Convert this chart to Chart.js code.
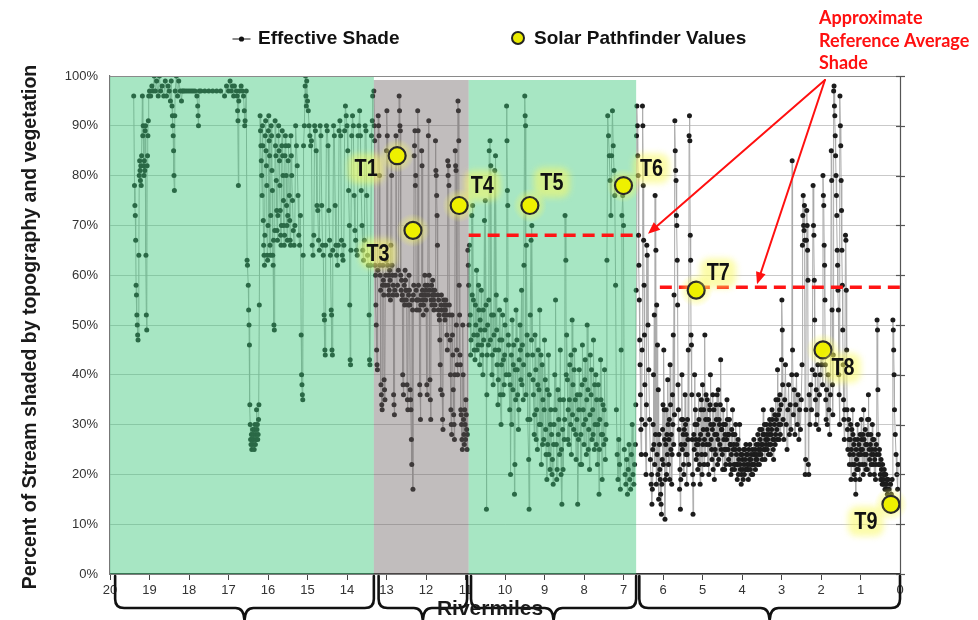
<!DOCTYPE html>
<html><head><meta charset="utf-8">
<script src="https://cdn.jsdelivr.net/npm/chart.js@4.4.1/dist/chart.umd.min.js"></script>
<style>html,body{margin:0;padding:0;background:#fff;}#wrap{width:978px;height:620px;}</style>
</head><body><div id="wrap"><canvas id="c" width="978" height="620"></canvas></div>
<script>
// ---------- DATA ----------
const xTickMiles = [20,19,18,17,16,15,14,13,12,11,10,9,8,7,6,5,4,3,2,1,0];
const yTickValues = [0,10,20,30,40,50,60,70,80,90,100];

// Effective shade, [rivermile, percent], reach 19.4 - 13.35
const reachUpper = [
[19.40,96],[19.38,78],[19.37,74],[19.36,72],[19.35,67],[19.34,58],[19.33,56],[19.32,52],[19.31,50],[19.30,48],[19.29,47],[19.27,64],[19.26,80],[19.25,83],[19.24,81],[19.23,79],[19.22,82],[19.21,78],[19.20,84],[19.18,96],[19.17,88],[19.16,90],[19.15,82],[19.14,80],[19.13,83],[19.12,81],[19.11,89],[19.10,90],[19.09,64],[19.08,52],[19.07,49],[19.06,82],[19.05,84],[19.04,88],[19.03,91],[19.02,96],[19.00,97],[18.97,96],[18.94,98],[18.91,97],[18.88,100],[18.85,97],[18.82,99],[18.78,96],[18.75,100],[18.72,97],[18.68,98],[18.64,96],[18.60,99],[18.57,96],[18.53,98],[18.50,97],[18.47,95],[18.45,99],[18.43,94],[18.42,92],[18.41,90],[18.40,88],[18.39,85],[18.38,80],[18.37,77],[18.36,92],[18.35,97],[18.32,100],[18.29,96],[18.26,99],[18.22,97],[18.19,95],[18.17,97],[18.14,97],[18.10,97],[18.05,97],[18.00,97],
[17.95,97],[17.90,97],[17.85,97],[17.80,96],[17.78,94],[17.77,92],[17.76,90],[17.74,97],[17.70,97],[17.60,97],[17.50,97],[17.40,97],[17.30,97],[17.20,97],[17.10,96],[17.05,98],[17.00,97],[16.96,99],[16.93,97],[16.90,98],[16.87,96],[16.85,98],[16.80,97],[16.78,96],[16.77,93],[16.76,91],[16.75,78],[16.74,95],[16.72,97],[16.68,98],[16.65,97],[16.62,96],[16.60,93],[16.59,90],[16.58,91],[16.55,97],[16.53,63],[16.52,62],[16.50,58],[16.49,53],[16.48,50],[16.47,46],[16.46,34],[16.45,30],[16.44,27],[16.43,26],[16.42,28],[16.41,25],[16.40,27],[16.39,29],[16.38,26],[16.37,28],[16.36,27],[16.35,25],[16.34,29],[16.33,30],[16.32,26],[16.31,28],[16.30,27],[16.29,33],[16.28,29],[16.27,30],[16.26,27],[16.25,28],[16.24,31],[16.23,34],[16.22,54],[16.20,92],[16.19,89],[16.18,86],[16.17,83],[16.16,80],[16.15,76],
[16.14,90],[16.13,86],[16.12,71],[16.11,66],[16.10,64],[16.09,62],[16.08,68],[16.07,88],[16.06,91],[16.05,85],[16.04,82],[16.03,78],[16.02,64],[16.01,63],[16.00,70],[15.99,89],[15.98,92],[15.97,87],[15.96,84],[15.95,66],[15.94,64],[15.93,72],[15.92,90],[15.91,88],[15.90,81],[15.89,77],[15.88,64],[15.87,62],[15.86,67],[15.85,50],[15.84,49],[15.83,69],[15.82,91],[15.81,86],[15.80,84],[15.79,79],[15.78,73],[15.77,69],[15.76,67],[15.75,72],[15.74,88],[15.73,90],[15.72,85],[15.71,83],[15.70,78],[15.69,73],[15.68,68],[15.67,66],[15.66,70],[15.65,86],[15.64,89],[15.63,84],[15.62,80],[15.61,75],[15.60,70],[15.59,66],[15.58,68],[15.57,84],[15.56,88],[15.55,86],[15.54,80],[15.53,74],[15.52,70],[15.51,67],[15.50,72],[15.49,83],[15.48,86],[15.46,76],[15.45,71],[15.44,67],[15.43,66],[15.42,88],[15.41,84],[15.40,80],[15.38,75],[15.36,69],[15.34,66],[15.32,70],[15.30,90],[15.28,86],[15.26,82],[15.24,76],[15.22,68],[15.20,66],[15.18,72],[15.16,48],[15.15,40],[15.14,38],[15.13,36],[15.12,35],[15.11,64],[15.10,86],[15.08,90],[15.06,98],[15.05,100],[15.04,96],[15.03,94],[15.02,99],[15.00,95],
[14.98,93],[14.96,90],[14.94,88],[14.92,86],[14.90,87],[14.88,66],[14.86,64],[14.84,68],[14.82,90],[14.80,89],[14.78,85],[14.76,74],[14.74,73],[14.72,67],[14.70,65],[14.68,90],[14.66,88],[14.64,74],[14.62,66],[14.60,64],[14.58,52],[14.57,51],[14.56,45],[14.55,44],[14.54,66],[14.52,90],[14.50,89],[14.48,86],[14.46,73],[14.44,67],[14.42,64],[14.40,53],[14.39,52],[14.38,45],[14.37,44],[14.36,65],[14.34,90],[14.32,88],[14.30,74],[14.28,66],[14.26,64],[14.24,62],[14.22,66],[14.20,89],[14.18,91],[14.16,88],[14.14,67],[14.12,64],[14.10,63],[14.08,66],[14.06,89],[14.04,94],[14.02,92],[14.00,90],[13.98,85],[13.96,77],[13.94,70],[13.93,54],[13.92,43],[13.91,42],[13.90,65],[13.88,88],[13.86,92],[13.84,90],[13.82,76],[13.80,69],[13.78,67],[13.76,65],[13.74,64],[13.72,88],[13.70,90],[13.68,93],[13.66,88],[13.64,77],[13.62,70],[13.60,65],[13.58,63],[13.56,67],[13.54,90],[13.52,89],[13.50,76],[13.48,64],[13.46,62],[13.44,52],[13.43,43],[13.42,42],[13.40,62],[13.38,88],[13.36,91],[13.35,96]
];

// reach 13.33 - 10.93
const reachGray = [
[13.32,97],[13.31,90],[13.30,87],[13.29,62],[13.28,60],[13.27,54],[13.26,50],[13.25,45],[13.24,42],[13.23,41],[13.22,61],[13.21,92],[13.20,90],[13.19,88],[13.18,80],[13.17,62],[13.16,60],[13.15,57],[13.14,38],[13.13,36],[13.12,34],[13.11,33],[13.10,58],[13.09,62],[13.08,59],[13.07,56],[13.06,39],[13.05,37],[13.04,35],[13.03,58],[13.02,60],[13.01,63],[13.00,85],[12.99,93],[12.98,88],[12.97,62],[12.96,58],[12.95,56],[12.94,60],[12.93,57],[12.92,61],[12.91,59],[12.90,55],[12.89,66],[12.88,84],[12.87,80],[12.86,62],[12.85,60],[12.84,56],[12.83,58],[12.82,36],[12.81,34],[12.80,32],[12.79,57],[12.78,60],[12.76,88],[12.74,56],[12.72,58],[12.70,61],[12.68,96],[12.67,93],[12.66,90],[12.65,89],[12.64,60],[12.63,57],[12.62,59],[12.61,55],[12.60,56],[12.59,40],[12.58,38],[12.57,36],[12.56,55],[12.55,58],[12.54,54],[12.53,61],[12.52,59],[12.51,57],[12.50,55],[12.49,57],[12.48,38],[12.47,35],[12.46,33],[12.45,54],[12.44,56],[12.43,60],[12.42,57],[12.41,54],[12.40,37],[12.39,35],[12.38,33],[12.37,27],[12.36,22],[12.35,55],[12.34,53],[12.33,17],[12.32,56],[12.31,58],[12.30,84],[12.29,86],[12.28,89],[12.27,78],[12.26,80],[12.25,57],[12.24,55],[12.23,53],[12.22,55],[12.21,93],[12.20,89],[12.19,58],[12.18,55],[12.17,53],[12.16,38],[12.15,36],[12.14,31],[12.13,54],[12.12,56],[12.11,85],[12.10,82],[12.09,57],[12.08,55],[12.07,52],[12.06,54],[12.05,56],[12.04,56],
[12.03,60],[12.02,58],[12.01,55],[12.00,57],[11.99,53],[11.98,38],[11.97,36],[11.96,58],[11.95,56],[11.94,88],[11.93,91],[11.92,60],[11.91,57],[11.90,39],[11.89,35],[11.88,31],[11.87,55],[11.86,58],[11.85,54],[11.84,56],[11.83,59],[11.82,57],[11.81,55],[11.80,53],[11.79,56],[11.78,57],[11.77,54],[11.76,87],[11.75,81],[11.74,80],[11.73,76],[11.72,72],[11.71,66],[11.70,56],[11.69,53],[11.68,55],[11.67,52],[11.66,51],[11.65,47],[11.64,42],[11.63,37],[11.62,54],[11.61,56],[11.60,53],[11.59,36],[11.58,31],[11.57,29],[11.56,53],[11.55,55],[11.54,52],[11.53,54],[11.52,51],[11.51,53],[11.50,55],[11.49,52],[11.48,54],[11.47,48],[11.46,45],[11.45,83],[11.44,80],[11.43,82],[11.42,78],[11.41,54],[11.40,52],[11.39,47],[11.38,40],[11.37,33],[11.36,30],[11.35,28],[11.34,52],[11.33,48],[11.32,44],[11.31,37],[11.30,32],[11.29,30],[11.28,27],[11.27,40],[11.26,85],[11.25,82],[11.24,81],[11.23,50],[11.22,45],[11.21,42],[11.20,40],[11.19,95],[11.18,93],[11.17,87],[11.16,58],[11.15,52],[11.14,44],[11.13,42],[11.12,33],[11.11,32],[11.10,30],[11.09,27],[11.08,25],[11.07,50],[11.06,40],[11.05,31],[11.04,28],[11.03,26],[11.02,33],[11.01,30],[11.00,27],[10.99,35],[10.98,32],[10.97,29],[10.96,25],[10.95,28],[10.94,65],[10.93,62]
];

// reach 10.92 - 6.72
const reachMiddle = [
[10.92,58],[10.90,66],[10.88,52],[10.86,47],[10.84,72],[10.82,74],[10.80,55],[10.78,45],[10.76,43],[10.74,50],
[10.72,61],[10.70,48],[10.68,46],[10.66,53],[10.64,42],[10.62,49],[10.60,57],[10.58,44],[10.56,40],[10.54,47],
[10.52,71],[10.50,75],[10.48,54],[10.47,13],[10.46,36],[10.44,50],[10.42,46],[10.40,85],[10.38,87],[10.36,82],
[10.34,52],[10.32,44],[10.30,38],[10.28,48],[10.26,81],[10.24,84],[10.22,56],[10.20,42],[10.18,34],[10.16,45],
[10.14,53],[10.12,36],[10.10,30],[10.08,47],[10.06,52],[10.04,43],[10.02,38],[10.00,50],[9.98,55],[9.96,94],
[9.95,87],[9.94,77],[9.93,74],[9.92,48],[9.90,40],[9.88,33],[9.86,20],[9.84,44],[9.82,51],[9.80,37],
[9.78,46],[9.76,16],[9.75,22],[9.74,41],[9.72,53],[9.70,47],[9.68,36],[9.66,29],[9.64,43],[9.62,50],
[9.60,39],[9.58,57],[9.56,46],[9.54,35],[9.52,62],[9.50,96],[9.49,92],[9.48,90],[9.46,66],[9.44,48],
[9.42,31],[9.40,23],[9.39,13],[9.38,40],[9.36,52],[9.34,67],[9.32,70],[9.30,44],[9.28,36],[9.26,28],
[9.24,48],[9.22,41],[9.20,33],[9.18,25],[9.16,45],[9.14,37],[9.12,53],[9.10,30],[9.08,22],[9.06,42],
[9.04,35],[9.02,27],[9.00,47],[8.98,39],[8.96,24],[8.94,19],[8.92,26],[8.90,44],[8.88,36],[8.86,21],
[8.84,33],[8.82,28],[8.80,23],[8.78,18],[8.76,30],[8.74,40],[8.72,55],[8.70,26],[8.68,21],[8.66,37],
[8.64,31],[8.62,24],[8.60,45],[8.58,20],[8.56,14],[8.54,29],[8.52,35],[8.50,27],[8.48,72],[8.46,63],
[8.44,48],[8.42,39],[8.40,33],[8.38,26],[8.36,42],[8.34,30],[8.32,24],[8.30,51],[8.28,38],[8.26,29],
[8.24,45],[8.22,35],[8.20,23],[8.18,31],[8.16,14],[8.14,27],[8.12,41],[8.10,36],[8.08,28],[8.06,22],
[8.04,46],[8.02,33],[8.00,26],[7.98,39],[7.96,31],[7.94,24],[7.92,50],[7.90,37],[7.88,29],[7.86,21],
[7.84,44],[7.82,36],[7.80,27],[7.78,33],[7.76,47],[7.74,25],[7.72,30],[7.70,40],[7.68,35],[7.66,22],
[7.64,38],[7.62,16],[7.60,31],[7.58,43],[7.56,28],[7.54,19],[7.52,34],[7.50,26],[7.48,41],[7.46,23],
[7.44,30],[7.42,63],[7.40,92],[7.38,88],[7.36,84],[7.34,79],[7.32,72],[7.30,84],[7.28,93],[7.26,86],
[7.24,81],[7.22,76],[7.20,58],[7.18,33],[7.16,24],[7.14,19],[7.12,27],[7.10,22],[7.08,17],[7.06,45],
[7.04,72],[7.02,76],[7.00,70],[6.98,25],[6.96,20],[6.94,18],[6.92,23],[6.90,16],[6.88,21],[6.86,26],
[6.84,19],[6.82,17],[6.80,24],[6.78,30],[6.76,20],[6.74,18],[6.72,22]
];
// additional readings inside the dense middle-reach cloud
const reachMiddleDense = [
[10.91,50],[10.87,44],[10.83,56],[10.79,48],[10.75,54],[10.71,45],[10.67,58],[10.63,51],[10.59,46],[10.55,53],[10.51,49],[10.45,44],[10.41,55],[10.37,47],[10.33,40],[10.29,52],[10.25,45],[10.21,49],[10.17,39],[10.13,47],[10.09,42],[10.05,36],[10.01,44],[9.97,40],[9.91,46],[9.87,38],[9.83,30],[9.79,42],[9.73,35],[9.69,41],[9.65,33],[9.61,45],[9.57,38],[9.53,42],[9.47,36],[9.43,44],[9.37,31],[9.33,47],[9.29,39],[9.25,32],[9.21,27],[9.17,38],[9.13,30],[9.09,44],[9.05,26],[9.01,33],[8.97,29],[8.93,37],[8.89,24],[8.85,30],[8.81,20],[8.77,26],[8.73,33],[8.69,19],[8.65,28],[8.61,35],[8.57,25],[8.53,21],[8.49,31],[8.45,40],[8.41,27],[8.37,35],[8.33,44],[8.29,32],[8.25,41],[8.21,28],[8.17,36],[8.13,33],[8.09,22],[8.05,38],[8.01,30],[7.97,43],[7.93,35],[7.89,25],[7.85,32],[7.81,41],[7.77,28],[7.73,38],[7.69,26],[7.65,30],[7.61,25],[7.57,35],[7.53,28],[7.49,33],[7.45,27]
];

// reach 6.70 - 0.05
const reachLower = [
[6.70,26],[6.69,34],[6.68,57],[6.67,88],[6.66,94],[6.65,90],[6.64,84],[6.63,80],[6.62,68],[6.61,62],[6.60,55],[6.59,47],[6.58,42],[6.57,36],[6.56,29],[6.55,24],[6.54,31],[6.53,45],[6.52,94],[6.51,90],[6.50,78],[6.49,67],[6.48,58],[6.47,48],[6.46,38],[6.45,30],[6.44,24],[6.43,20],[6.42,34],[6.41,66],[6.40,64],
[6.38,50],[6.36,41],[6.34,31],[6.32,23],[6.30,18],[6.28,14],[6.26,25],[6.24,40],[6.22,52],[6.20,76],[6.18,65],[6.16,54],[6.14,46],[6.12,37],[6.10,28],[6.08,21],[6.06,16],[6.04,12],[6.02,23],[6.00,34],[5.98,45],[5.96,27],[5.95,11],[5.94,19],
[5.92,33],[5.90,28],[5.88,39],[5.86,22],[5.84,31],[5.82,42],[5.80,25],[5.78,18],[5.76,36],[5.74,48],[5.72,56],[5.70,91],[5.69,85],[5.68,81],[5.67,79],[5.66,72],[5.65,70],[5.64,63],[5.63,54],[5.62,38],[5.61,33],[5.60,24],[5.58,17],[5.56,13],[5.54,26],[5.52,40],[5.50,31],[5.48,22],[5.46,29],
[5.44,36],[5.42,24],[5.40,18],[5.38,31],[5.36,45],[5.34,88],[5.33,92],[5.32,87],[5.31,68],[5.30,63],[5.29,48],[5.28,46],[5.27,36],[5.26,27],[5.25,20],[5.24,12],[5.22,28],[5.20,40],[5.18,33],[5.16,23],
[5.14,30],[5.12,21],[5.10,36],[5.08,27],[5.06,18],[5.04,33],[5.02,24],[5.00,38],[4.98,29],[4.96,22],[4.94,48],[4.92,31],[4.90,26],[4.88,35],[4.86,28],[4.84,20],[4.82,33],[4.80,40],[4.78,27],[4.76,23],[4.74,36],[4.72,30],[4.70,19],[4.68,25],[4.66,34],[4.64,28],[4.62,22],[4.60,37],[4.58,31],[4.56,26],[4.54,43],[4.52,29],[4.50,24],[4.48,33],[4.46,27],[4.44,21],[4.42,30],[4.40,25],[4.38,35],[4.36,28],[4.34,23],[4.32,31],[4.30,26],[4.28,20],[4.26,29],[4.24,33],[4.22,25],[4.20,22],[4.18,28],[4.16,30],[4.14,24],[4.12,19],[4.10,27],[4.08,23],[4.06,30],[4.04,21],[4.02,18],[4.00,24],
[3.98,21],[3.96,25],[3.94,20],[3.92,23],[3.90,26],[3.88,21],[3.86,24],[3.84,19],[3.82,22],[3.80,26],[3.78,23],[3.76,20],[3.74,25],[3.72,22],[3.70,27],[3.68,24],[3.66,21],[3.64,26],[3.62,23],[3.60,28],[3.58,25],[3.56,22],[3.54,27],[3.52,24],[3.50,29],[3.48,26],[3.46,33],[3.44,28],[3.42,23],[3.40,27],[3.38,30],[3.36,25],[3.34,29],[3.32,26],[3.30,31],[3.28,24],[3.26,28],[3.24,33],[3.22,27],[3.20,23],[3.18,30],[3.16,26],[3.14,35],[3.12,29],[3.10,41],[3.08,32],[3.06,27],[3.04,36],[3.02,30],
[3.00,43],[2.99,55],[2.98,49],[2.97,38],[2.96,31],[2.94,27],[2.92,35],[2.90,42],[2.88,30],[2.86,25],[2.84,33],[2.82,38],[2.80,28],[2.78,34],[2.76,29],[2.74,40],[2.73,83],[2.72,45],[2.70,32],[2.68,37],[2.66,28],[2.64,34],[2.62,40],[2.60,30],[2.58,36],[2.56,27],[2.54,33],[2.52,29],[2.50,35],
[2.48,42],[2.47,66],[2.46,72],[2.45,76],[2.44,70],[2.43,69],[2.42,74],[2.41,67],[2.40,20],[2.39,23],[2.38,33],[2.37,67],[2.36,73],[2.35,70],[2.34,65],[2.33,59],[2.32,22],[2.31,20],[2.30,36],[2.28,30],[2.26,38],[2.24,33],[2.22,41],
[2.20,78],[2.19,70],[2.18,68],[2.17,59],[2.16,51],[2.15,40],[2.14,35],[2.13,30],[2.12,37],[2.10,32],[2.08,42],[2.06,29],[2.04,36],[2.02,40],[2.00,44],[1.98,42],[1.96,38],[1.95,80],[1.94,76],[1.93,74],[1.92,66],[1.91,62],[1.90,55],[1.89,42],[1.88,35],[1.87,31],[1.86,37],[1.84,30],[1.82,40],[1.80,33],[1.78,28],[1.76,36],
[1.74,85],[1.73,79],[1.72,53],[1.71,38],[1.70,32],[1.69,44],[1.68,97],[1.67,98],[1.66,94],[1.65,92],[1.64,88],[1.63,84],[1.62,80],[1.61,76],[1.60,72],[1.59,65],[1.58,62],[1.57,57],[1.56,53],[1.55,40],[1.54,36],[1.53,30],[1.52,96],[1.51,90],[1.50,86],[1.49,79],[1.48,73],[1.47,65],[1.46,58],[1.45,49],[1.44,42],[1.43,35],[1.42,31],[1.41,27],[1.40,33],
[1.38,68],[1.37,67],[1.36,57],[1.35,45],[1.34,33],[1.33,29],[1.32,25],[1.30,31],[1.28,22],[1.26,27],[1.24,19],[1.22,29],[1.20,33],
[1.18,24],[1.16,20],[1.14,27],[1.12,16],[1.10,23],[1.08,30],[1.06,21],[1.04,26],[1.02,19],[1.00,25],[0.98,31],[0.96,22],[0.94,28],[0.92,33],[0.90,24],[0.88,29],[0.86,21],[0.84,26],[0.82,31],[0.80,36],[0.79,31],[0.78,25],[0.76,20],[0.74,28],[0.72,24],[0.70,30],[0.68,22],[0.66,27],[0.64,23],[0.62,19],[0.60,26],[0.58,51],[0.57,49],[0.56,37],[0.55,28],[0.54,22],[0.52,25],[0.50,20],[0.48,23],[0.46,19],[0.44,22],[0.42,18],[0.40,21],[0.38,17],[0.36,20],[0.34,18],[0.32,16],[0.30,19],
[0.28,17],[0.26,15],[0.24,18],[0.22,16],[0.20,19],[0.18,51],[0.17,49],[0.16,45],[0.15,40],[0.14,33],[0.12,28],[0.10,24],[0.08,20],[0.06,17],[0.05,22]
];
// additional readings inside the dense lower-reach cloud
const reachLowerDense = [
[6.29,20],[6.27,17],[6.25,30],[6.23,26],[6.21,22],[6.19,28],[6.17,18],[6.15,24],[6.13,20],[6.11,15],[6.09,26],[6.07,19],[6.05,14],[6.03,18],[6.01,29],[5.99,22],[5.97,33],[5.93,26],[5.91,20],[5.89,24],[5.87,30],[5.85,27],[5.83,19],[5.81,34],[5.79,28],[5.77,24],[5.75,30],[5.73,26],[5.71,32],[5.59,29],[5.57,21],[5.55,19],[5.53,31],[5.51,25],[5.49,28],[5.47,20],[5.45,26],[5.43,30],[5.41,28],[5.39,24],[5.37,27],[5.35,22],[5.23,18],[5.21,25],[5.19,30],[5.17,27],[5.15,26],[5.13,24],
[5.11,26],[5.09,31],[5.07,22],[5.05,28],[5.03,35],[5.01,20],[4.99,26],[4.97,33],[4.95,27],[4.93,24],[4.91,36],[4.89,29],[4.87,22],[4.85,31],[4.83,26],[4.81,34],[4.79,30],[4.77,25],[4.75,29],[4.73,21],[4.71,33],[4.69,28],[4.67,24],[4.65,31],[4.63,36],[4.61,27],[4.59,23],[4.57,30],[4.55,34],[4.53,25],[4.51,29],[4.49,21],[4.47,30],[4.45,25],[4.43,28],[4.41,22],[4.39,27],[4.37,31],[4.35,25],[4.33,28],[4.31,22],[4.29,26],[4.27,24],[4.25,21],[4.23,28],[4.21,26],[4.19,21],[4.17,25],[4.15,22],[4.13,26],[4.11,22],[4.09,20],[4.07,25],[4.05,22],[4.03,24],[4.01,20],
[3.99,23],[3.97,19],[3.95,22],[3.93,25],[3.91,21],[3.89,24],[3.87,22],[3.85,21],[3.83,25],[3.81,23],[3.79,21],[3.77,24],[3.75,22],[3.73,20],[3.71,24],[3.69,22],[3.67,25],[3.65,23],[3.63,24],[3.61,22],[3.59,26],[3.57,24],[3.55,29],[3.53,25],[3.51,26],[3.49,23],[3.47,28],[3.45,25],[3.43,30],[3.41,25],[3.39,26],[3.37,28],[3.35,27],[3.33,24],[3.31,28],[3.29,30],[3.27,26],[3.25,29],[3.23,31],[3.21,25],[3.19,27],[3.17,32],[3.15,28],[3.13,31],[3.11,27],[3.09,35],[3.07,30],[3.05,33],[3.03,28],[3.01,34],
[1.29,27],[1.27,24],[1.25,30],[1.23,25],[1.21,22],[1.19,28],[1.17,26],[1.15,22],[1.13,19],[1.11,25],[1.09,21],[1.07,27],[1.05,24],[1.03,22],[1.01,28],[0.99,24],[0.97,27],[0.95,25],[0.93,20],[0.91,27],[0.89,22],[0.87,26],[0.85,24],[0.83,21],[0.81,28],[0.77,23],[0.75,26],[0.73,22],[0.71,25],[0.69,27],[0.67,24],[0.65,20],[0.63,25],[0.61,22],[0.59,24],[0.53,24],[0.51,22],[0.49,19],[0.47,21],[0.45,18],[0.43,20],[0.41,19],[0.39,20],[0.37,18],[0.35,17],[0.33,19],[0.31,17]
];

const pathfinderLabels = ['T1','T3','T4','T5','T6','T7','T8','T9'];
const pathfinderMiles  = [12.73,12.33,11.16,9.37,7.00,5.16,1.95,0.23];
const pathfinderShade  = [84,69,74,74,78,57,45,14];

const refAvgUpperMiles = [10.92,6.58];
const refAvgUpperShade = [68,68];
const refAvgLowerMiles = [6.08,0];
const refAvgLowerShade = [57.6,57.6];

const bandFrom = [20,13.32,10.92];
const bandTo   = [13.32,10.92,6.68];
const bandKind = ['green','gray','green'];

const braceFrom = [19.87,13.2,10.86,6.6];
const braceTo   = [13.32,10.96,6.68,0];

const seriesNames = ['Effective Shade','Solar Pathfinder Values'];
const annotationLines = ['Approximate','Reference Average','Shade'];
const yAxisTitle = 'Percent of Stream shaded by topography and vegetation';
const xAxisTitle = 'Rivermiles';

// ---------- CHART ----------
const shadePoints = [].concat(reachUpper, reachGray, reachMiddle, reachMiddleDense, reachLower, reachLowerDense)
  .sort((a,b)=>b[0]-a[0])
  .map(p => ({x:p[0], y:p[1]}));
const pfPoints = pathfinderMiles.map((m,i)=>({x:m, y:pathfinderShade[i]}));
const ref1 = refAvgUpperMiles.map((m,i)=>({x:m,y:refAvgUpperShade[i]}));
const ref2 = refAvgLowerMiles.map((m,i)=>({x:m,y:refAvgLowerShade[i]}));

Chart.defaults.font.family = '"Liberation Sans", Arial, sans-serif';
const FONT = '"Liberation Sans", Arial, sans-serif';

const bandColors = {green:'rgba(60,200,122,0.45)', gray:'rgba(108,98,98,0.42)'};
const labelOffsets = [[-31,13],[-35,23],[23,-20],[22,-23],[28,-17],[22,-17],[20,18],[-25,17]];

const decor = {
  id:'decor',
  afterDatasetDraw(chart, args){
    if (args.index !== 0) return;
    const {ctx, chartArea:a, scales:{x}} = chart;
    ctx.save();
    bandFrom.forEach((f,i)=>{
      const x1 = x.getPixelForValue(f), x2 = x.getPixelForValue(bandTo[i]);
      const top = i===0 ? a.top : a.top+4;
      ctx.fillStyle = bandColors[bandKind[i]];
      ctx.fillRect(Math.min(x1,x2), top, Math.abs(x2-x1), a.bottom-top);
    });
    ctx.restore();
  },
  beforeDatasetDraw(chart, args){
    if (args.index !== 3) return;
    const {ctx} = chart;
    const meta = chart.getDatasetMeta(3);
    ctx.save();
    meta.data.forEach((pt)=>{
      const g = ctx.createRadialGradient(pt.x,pt.y,6,pt.x,pt.y,17);
      g.addColorStop(0,'rgba(250,250,90,0.6)');
      g.addColorStop(1,'rgba(250,250,90,0)');
      ctx.fillStyle = g;
      ctx.beginPath(); ctx.arc(pt.x,pt.y,17,0,Math.PI*2); ctx.fill();
    });
    ctx.restore();
  },
  afterDatasetsDraw(chart){
    const {ctx, chartArea:a, scales:{x,y}} = chart;
    ctx.save();
    ctx.strokeStyle = '#8a8a8a'; ctx.lineWidth = 1.2;
    ctx.beginPath(); ctx.moveTo(a.left, a.top+0.5); ctx.lineTo(a.right, a.top+0.5); ctx.stroke();
    ctx.strokeStyle = '#555';
    ctx.beginPath(); ctx.moveTo(a.right+0.5, a.top); ctx.lineTo(a.right+0.5, a.bottom); ctx.stroke();
    yTickValues.forEach(v=>{
      const py = Math.round(y.getPixelForValue(v))+0.5;
      ctx.beginPath(); ctx.moveTo(a.right-4, py); ctx.lineTo(a.right+5, py); ctx.stroke();
    });
    const meta = chart.getDatasetMeta(3);
    meta.data.forEach((pt,i)=>{
      const lx = pt.x + labelOffsets[i][0], ly = pt.y + labelOffsets[i][1];
      ctx.save();
      ctx.filter = 'blur(3px)';
      ctx.fillStyle = 'rgba(250,250,100,0.55)';
      ctx.beginPath();
      if (ctx.roundRect) ctx.roundRect(lx-18, ly-15, 36, 30, 9); else ctx.rect(lx-18, ly-15, 36, 30);
      ctx.fill();
      ctx.restore();
      ctx.save();
      ctx.translate(lx, ly);
      ctx.scale(0.86, 1);
      ctx.fillStyle = '#111';
      ctx.font = 'bold 23px ' + FONT;
      ctx.textAlign = 'center'; ctx.textBaseline = 'middle';
      ctx.fillText(pathfinderLabels[i], 0, 1);
      ctx.restore();
    });
    ctx.restore();
  },
  afterDraw(chart){
    const {ctx, chartArea:a, scales:{x,y}} = chart;
    ctx.save();
    ctx.strokeStyle = '#111'; ctx.lineWidth = 2.6; ctx.lineCap='round';
    const y0 = a.bottom+2, ym = 608, yt = 622, r = 9;
    braceFrom.forEach((f,i)=>{
      const x1 = x.getPixelForValue(f), x2 = x.getPixelForValue(braceTo[i]);
      const xc = (x1+x2)/2;
      ctx.beginPath();
      ctx.moveTo(x1, y0);
      ctx.lineTo(x1, ym-r);
      ctx.quadraticCurveTo(x1, ym, x1+r, ym);
      ctx.lineTo(xc-r, ym);
      ctx.quadraticCurveTo(xc, ym, xc, yt);
      ctx.quadraticCurveTo(xc, ym, xc+r, ym);
      ctx.lineTo(x2-r, ym);
      ctx.quadraticCurveTo(x2, ym, x2, ym-r);
      ctx.lineTo(x2, y0);
      ctx.stroke();
    });
    ctx.fillStyle = '#1a1a1a';
    ctx.font = 'bold 21px ' + FONT;
    ctx.textAlign = 'center'; ctx.textBaseline = 'middle';
    ctx.fillText(xAxisTitle, 490, 609);
    ctx.save();
    ctx.translate(31, (a.top+a.bottom)/2+2);
    ctx.rotate(-Math.PI/2);
    ctx.font = 'bold 19.5px ' + FONT;
    ctx.fillText(yAxisTitle, 0, 0);
    ctx.restore();
    // legend
    ctx.strokeStyle = '#666'; ctx.lineWidth = 1.5;
    ctx.beginPath(); ctx.moveTo(233,39); ctx.lineTo(250,39); ctx.stroke();
    ctx.fillStyle = '#111';
    ctx.beginPath(); ctx.arc(241.5,39,2.6,0,Math.PI*2); ctx.fill();
    ctx.font = 'bold 19px ' + FONT; ctx.textAlign='left'; ctx.textBaseline='middle';
    ctx.fillText(seriesNames[0], 258, 39);
    ctx.beginPath(); ctx.arc(518,38,6,0,Math.PI*2);
    ctx.fillStyle = '#e9ea00'; ctx.fill();
    ctx.strokeStyle = '#222'; ctx.lineWidth = 2; ctx.stroke();
    ctx.fillStyle = '#111';
    ctx.fillText(seriesNames[1], 534, 39);
    // annotation text
    ctx.fillStyle = '#ff1010';
    ctx.font = 'bold 18px Lato, "Open Sans", sans-serif';
    const ly = [18,41,63];
    annotationLines.forEach((t,i)=> ctx.fillText(t, 819, ly[i]));
    // arrows
    const sx = x.getPixelForValue(1.9), sy = y.getPixelForValue(99.2);
    const targets = [[6.38,68.3],[3.62,58.2]];
    ctx.strokeStyle = '#ff1010'; ctx.fillStyle = '#ff1010'; ctx.lineWidth = 2;
    targets.forEach(t=>{
      const tx = x.getPixelForValue(t[0]), ty = y.getPixelForValue(t[1]);
      const ang = Math.atan2(ty-sy, tx-sx);
      const L = 12, W = 5;
      const bx = tx - L*Math.cos(ang), by = ty - L*Math.sin(ang);
      ctx.beginPath(); ctx.moveTo(sx,sy); ctx.lineTo(bx,by); ctx.stroke();
      ctx.beginPath();
      ctx.moveTo(tx,ty);
      ctx.lineTo(bx + W*Math.sin(ang), by - W*Math.cos(ang));
      ctx.lineTo(bx - W*Math.sin(ang), by + W*Math.cos(ang));
      ctx.closePath(); ctx.fill();
    });
    ctx.restore();
  }
};

new Chart(document.getElementById('c'), {
  type:'line',
  data:{
    datasets:[
      { label:seriesNames[0], data:shadePoints, order:4,
        borderColor:'#ababab', borderWidth:1, tension:0,
        pointRadius:2.5, pointBackgroundColor:'#1c1c1c', pointBorderWidth:0, pointHoverRadius:2.5 },
      { label:'ref1', data:ref1, order:3, borderColor:'#ff1414', borderWidth:3.5, borderDash:[12,7], pointRadius:0 },
      { label:'ref2', data:ref2, order:2, borderColor:'#ff1414', borderWidth:3.5, borderDash:[12,7], pointRadius:0 },
      { label:seriesNames[1], data:pfPoints, order:1, showLine:false,
        pointRadius:8.5, pointBackgroundColor:'#eef000', pointBorderColor:'#2a2a2a', pointBorderWidth:2.2 }
    ]
  },
  options:{
    responsive:false, animation:false, events:[],
    layout:{padding:{left:0, right:78, top:76, bottom:0}},
    plugins:{legend:{display:false}, tooltip:{enabled:false}},
    scales:{
      x:{ type:'linear', min:0, max:20, reverse:true,
          afterFit(s){ s.height = 46; },
          afterBuildTicks(s){ s.ticks = xTickMiles.map(v=>({value:v})); },
          ticks:{ autoSkip:false, maxRotation:0, padding:3, color:'#333', font:{size:13} },
          grid:{ drawOnChartArea:false, drawTicks:true, tickLength:6, color:'#444' },
          border:{ color:'#333', width:1.5 } },
      y:{ min:0, max:100,
          afterFit(s){ s.width = 110; },
          afterBuildTicks(s){ s.ticks = yTickValues.map(v=>({value:v})); },
          ticks:{ padding:12, color:'#333', font:{size:13}, callback:v=>v+'%' },
          grid:{ color:'#c9c9c9', lineWidth:1, drawTicks:false },
          border:{ color:'#777', width:1.2 } }
    }
  },
  plugins:[decor]
});
</script>
</body></html>
